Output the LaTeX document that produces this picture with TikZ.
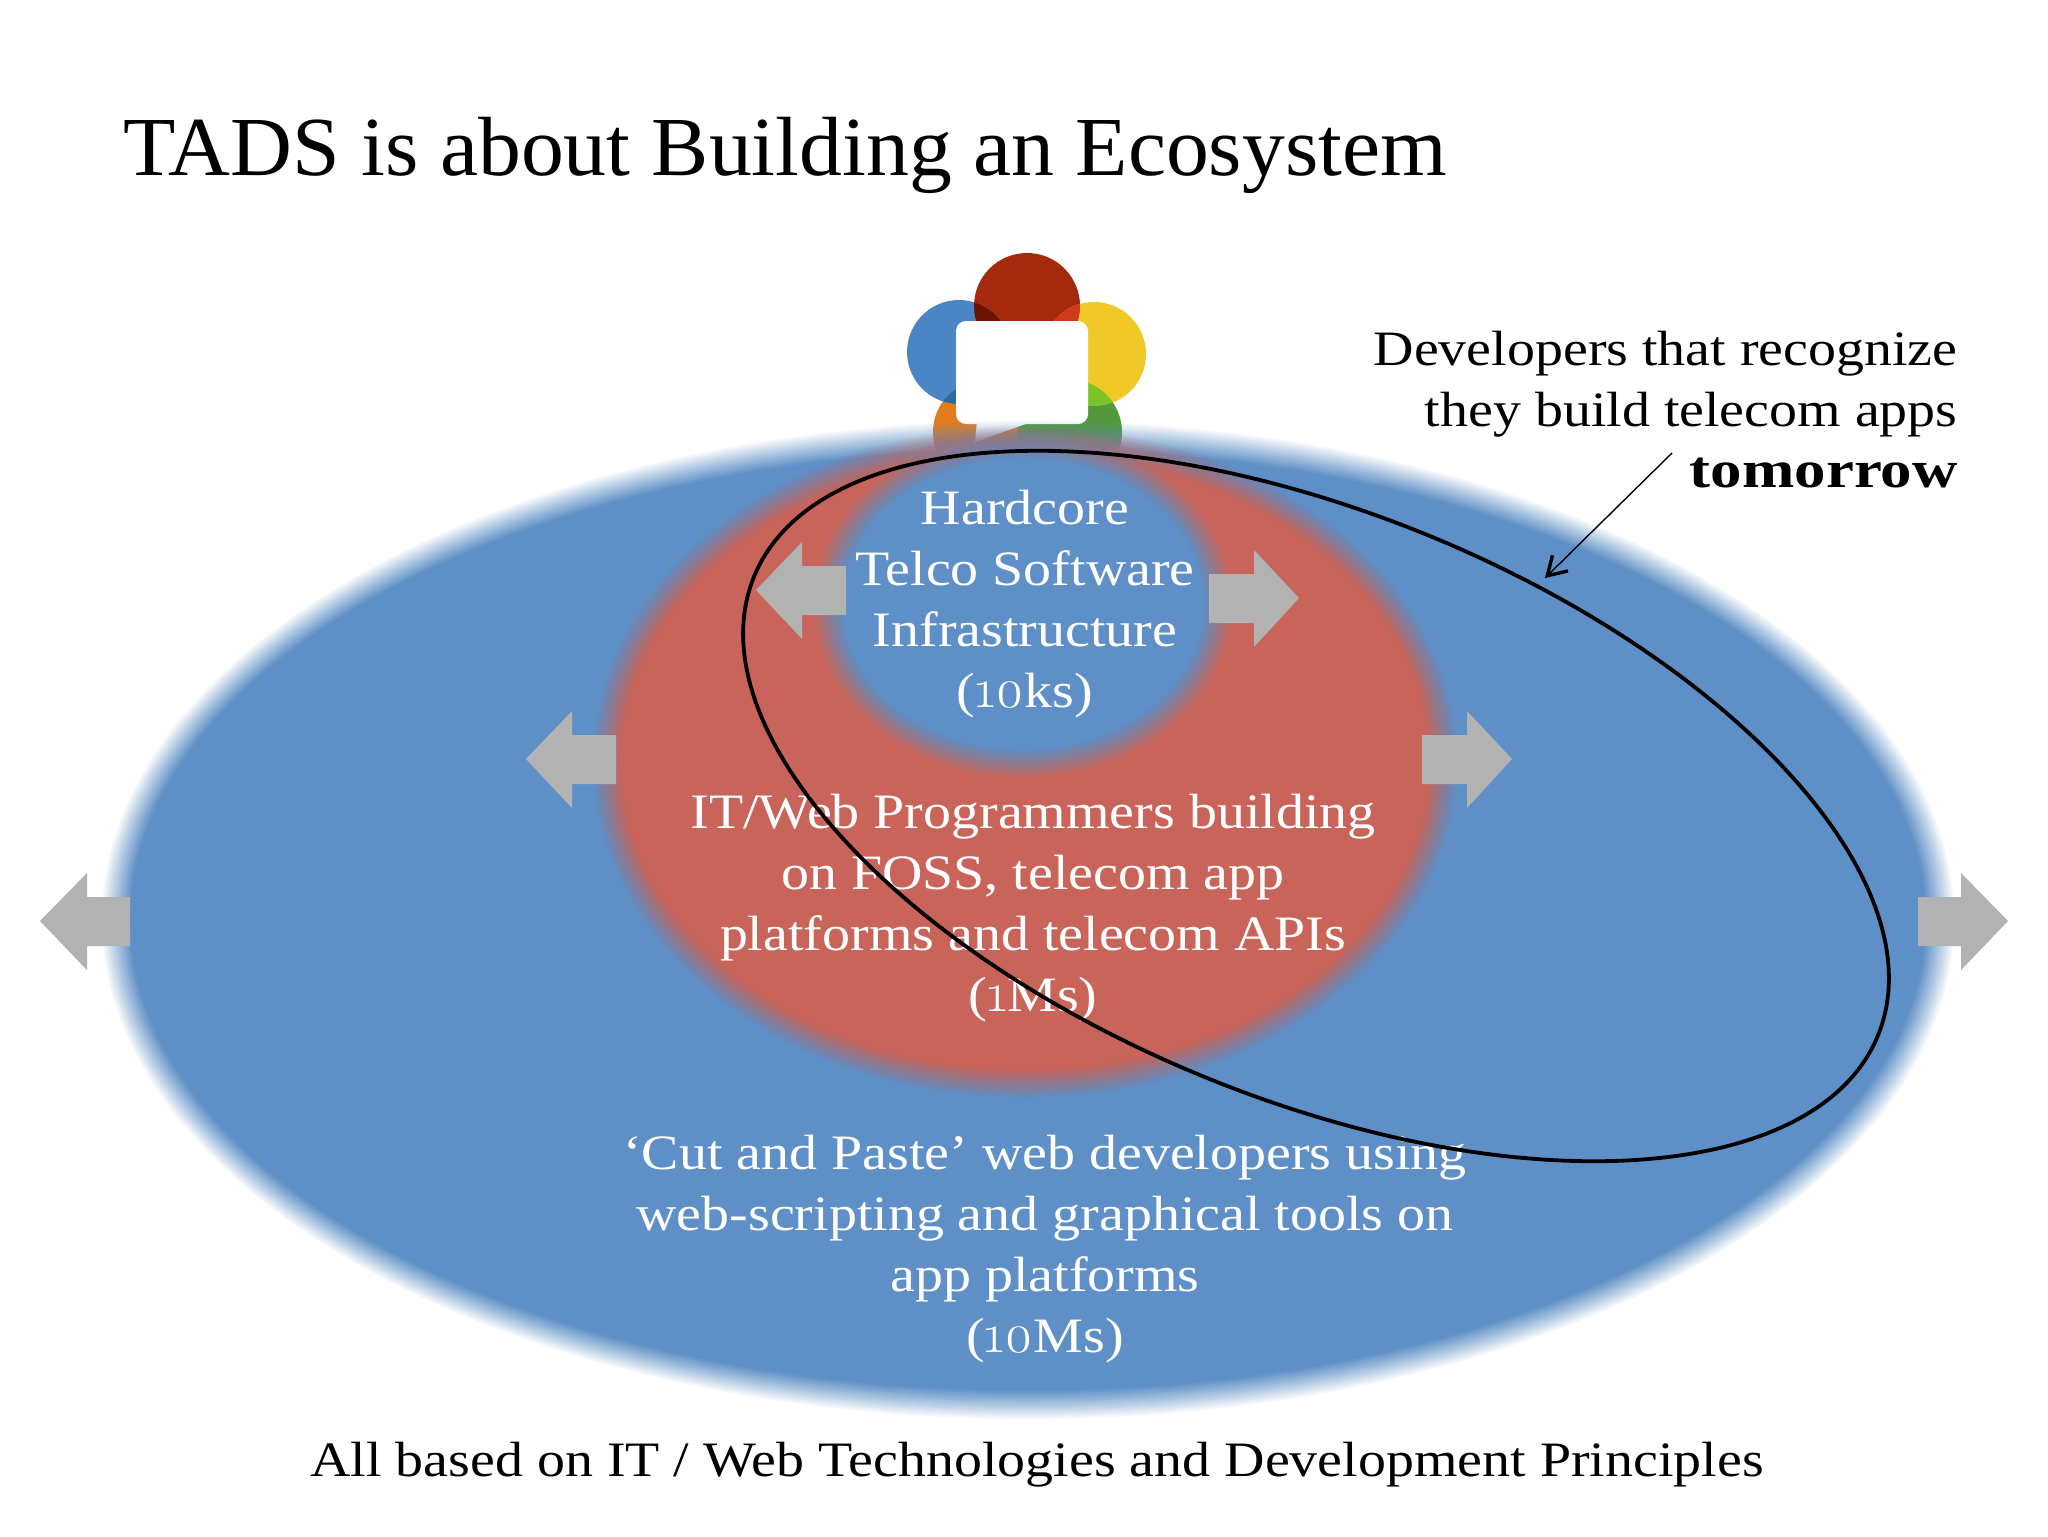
\documentclass[tikz,border=0pt]{standalone}
\usepackage{fontspec}
\setmainfont{Liberation Serif}[FakeStretch=1.13]
\newfontfamily\titlefont{Liberation Serif}[FakeStretch=1.02]
\newfontfamily\boldwide{Liberation Serif Bold}[FakeStretch=1.2]
\newfontfamily\oldnum{Latin Modern Roman}[Numbers=OldStyle,Scale=1.12]
\usetikzlibrary{arrows.meta}
\definecolor{ecoblue}{HTML}{5E8FC6}
\definecolor{ecored}{HTML}{C9645A}
\definecolor{arrowgrey}{HTML}{B2B2B2}
\definecolor{logored}{HTML}{A52A0D}
\definecolor{logoblue}{HTML}{4A86C5}
\definecolor{logoyellow}{HTML}{F0C928}
\definecolor{logoorange}{HTML}{E37B1C}
\definecolor{logogreen}{HTML}{54983E}
\definecolor{mixdark}{HTML}{6B1200}
\definecolor{mixbright}{HTML}{D03A18}
\definecolor{mixblue}{HTML}{2E6CA0}
\definecolor{mixgreen}{HTML}{7CC528}
\newcommand{\softellipse}[6]{%
  \foreach \k in {1,...,14}{%
    \pgfmathsetmacro{\off}{#6*(1-2*(\k-1)/13)}%
    \pgfmathsetmacro{\alp}{1/(15-\k)}%
    \fill[#5,fill opacity=\alp] (#1,#2) ellipse [x radius=#3+\off, y radius=#4+\off];
  }%
}
\tikzset{
  bodytext/.style={text=white,align=center,font=\fontsize{24.75}{30.5}\selectfont,inner sep=0pt,anchor=base},
  blacktext/.style={text=black,inner sep=0pt,anchor=base},
  greyarrow/.style={fill=arrowgrey,draw=none},
  trend/.style={draw=black,line width=1.9pt},
  leader/.style={draw=black,line width=0.7pt,-{Straight Barb[length=9pt,width=11pt,line width=1.7pt]}}
}
\begin{document}
\begin{tikzpicture}[x=0.5pt,y=0.5pt]
\useasboundingbox (0,0) rectangle (2048,-1536);
\fill[white] (0,0) rectangle (2048,-1536);
% logo
\fill[logored] (1027,-306) circle [radius=53];
\fill[logoblue] (959,-352) circle [radius=52];
\fill[logoyellow] (1094,-354) circle [radius=52];
\fill[logoorange] (985,-432) circle [radius=52];
\fill[logogreen] (1070,-432) circle [radius=52];
\begin{scope}\clip (1027,-306) circle [radius=53];
  \fill[mixdark] (959,-352) circle [radius=52];
  \fill[mixbright] (1094,-354) circle [radius=52];
\end{scope}
\begin{scope}\clip (959,-352) circle [radius=52];
  \fill[mixblue] (985,-432) circle [radius=52];
\end{scope}
\begin{scope}\clip (1094,-354) circle [radius=52];
  \fill[mixgreen] (1070,-432) circle [radius=52];
\end{scope}
\fill[white,rounded corners=5pt] (956,-321) rectangle (1088,-424);
\fill[white] (977,-420) -- (1037,-420) -- (975,-442) -- cycle;
% soft ellipses
\softellipse{1028}{-920}{912}{485}{ecoblue}{14}
\softellipse{1025}{-762}{418}{322}{ecored}{14}
\softellipse{1023}{-604}{195}{160}{ecoblue}{14}
% grey arrows
\fill[greyarrow] (40,-921) -- (87,-873) -- (87,-897) -- (130,-897) -- (130,-946) -- (87,-946) -- (87,-970) -- cycle;
\fill[greyarrow] (2008,-921) -- (1961,-873) -- (1961,-897) -- (1918,-897) -- (1918,-946) -- (1961,-946) -- (1961,-970) -- cycle;
\fill[greyarrow] (526,-759) -- (572,-711) -- (572,-735) -- (616,-735) -- (616,-784) -- (572,-784) -- (572,-808) -- cycle;
\fill[greyarrow] (1512,-759) -- (1467,-711) -- (1467,-735) -- (1422,-735) -- (1422,-784) -- (1467,-784) -- (1467,-808) -- cycle;
\fill[greyarrow] (756,-590) -- (802,-542) -- (802,-566) -- (846,-566) -- (846,-615) -- (802,-615) -- (802,-639) -- cycle;
\fill[greyarrow] (1299,-598) -- (1254,-550) -- (1254,-574) -- (1209,-574) -- (1209,-623) -- (1254,-623) -- (1254,-647) -- cycle;
% texts
\node[blacktext,anchor=base west,font=\titlefont\fontsize{42}{50}\selectfont] (title) at (123,-175) {TADS is about Building an Ecosystem};
\node[bodytext] (core) at (1025,-707) {Hardcore\\Telco Software\\Infrastructure\\({\oldnum 10}ks)};
\node[bodytext] (mid) at (1033,-1011) {IT/Web Programmers building\\on FOSS, telecom app\\platforms and telecom APIs\\({\oldnum 1}Ms)};
\node[bodytext] (outer) at (1045,-1352) {‘Cut and Paste’ web developers using\\web-scripting and graphical tools on\\app platforms\\({\oldnum 10}Ms)};
\node[blacktext,font=\fontsize{24.75}{30.5}\selectfont] (base) at (1037,-1476) {All based on IT / Web Technologies and Development Principles};
\node[blacktext,anchor=base east,align=right,font=\fontsize{24.75}{30.5}\selectfont] (dev) at (1958,-487) {Developers that recognize\\they build telecom apps\\{\boldwide\fontsize{26.2}{30.5}\selectfont tomorrow}};
% tomorrow ellipse
\draw[trend] (1316,-806) ellipse [x radius=607, y radius=293, rotate=-22.2];
\coordinate (leadstart) at (1672,-453);
\coordinate (leadend) at (1545,-578);
\draw[leader] (leadstart) -- (leadend);
\end{tikzpicture}
\end{document}
